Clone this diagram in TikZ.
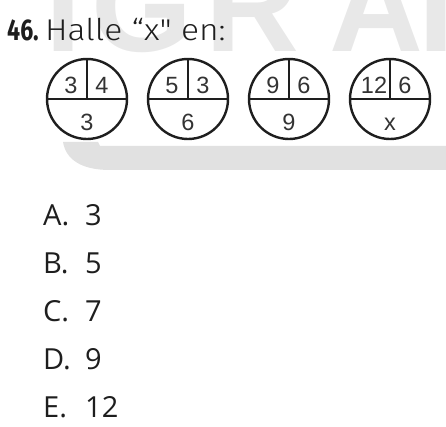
\documentclass[tikz,border=0pt]{standalone}
\usepackage{fontspec}
\setmainfont{Liberation Sans}
\newfontfamily\numfont{Liberation Sans}
\newfontfamily\wmfont{Liberation Sans}
\newfontfamily\firasans{Fira Sans}
\newfontfamily\firalight{Fira Sans Light}
\newfontfamily\optfont{Open Sans}
\definecolor{ink}{HTML}{1E1E1E}
\definecolor{numink}{HTML}{333333}
\definecolor{wm}{HTML}{E8E8E8}
\definecolor{wmbar}{HTML}{E1E1E1}
\tikzset{
  ring/.style={circle, draw=ink, line width=2.4pt, minimum size=80pt, inner sep=0pt, outer sep=0pt},
  divider/.style={draw=ink, line width=2.4pt},
  num/.style={font=\numfont\fontsize{23.5}{24}\selectfont, text=numink, inner sep=0pt, anchor=base},
  optletter/.style={font=\optfont\fontsize{29}{30}\selectfont, text=ink, inner sep=0pt, anchor=base west},
  wmletter/.style={font=\wmfont\bfseries\fontsize{130}{130}\selectfont, text=wm, inner sep=0pt, anchor=base},
}
\begin{document}
\begin{tikzpicture}[x=1pt,y=1pt]
\useasboundingbox (0,0) rectangle (446,426);
\begin{scope}
  \clip (0,0) rectangle (446,426);
  % watermark
  \node[wmletter] (wI) at (64,374) {I};
  \node[wmletter] (wG) at (142,374) {G};
  \node[wmletter] (wR) at (252,374) {R};
  \node[wmletter] (wA) at (376,374) {A};
  \node[wmletter] (wI2) at (437,374) {I};
  \fill[wmbar] (63,284) -- (98,284) -- (100,280) -- (446,280) -- (446,256) -- (110,256)
     .. controls (82,256) and (66,266) .. (63,284) -- cycle;
\end{scope}

% title
\node[anchor=base west, inner sep=0pt, text=ink] (qnum) at (7,385)
  {\firasans\bfseries\fontsize{30}{30}\selectfont\scalebox{0.77}[1]{46.}};
\node[anchor=base west, inner sep=0pt, text=ink] (qtext) at (45,385)
  {\firalight\fontsize{30}{30}\selectfont\scalebox{1.12}[1]{Halle “x" en:}};

% circles
\foreach \i/\cx/\a/\b/\c in {1/87/3/4/3, 2/188/5/3/6, 3/289/9/6/9, 4/390/12/6/x}{
  \node[ring] (c\i) at (\cx,327) {};
  \draw[divider] (c\i.west) -- (c\i.east);
  \draw[divider] (c\i.north) -- (c\i.center);
  \node[num] (tl\i) at (\cx-16,332) {\a};
  \node[num] (tr\i) at (\cx+15,332) {\b};
  \node[num] (bt\i) at (\cx,295) {\c};
}

% options
\foreach \j/\L/\v in {0/A/3, 1/B/5, 2/C/7, 3/D/9, 4/E/12}{
  \node[optletter] (L\L) at (43,201-48*\j) {\L.};
  \node[optletter] (V\L) at (85,201-48*\j) {\v};
}
\end{tikzpicture}
\end{document}
